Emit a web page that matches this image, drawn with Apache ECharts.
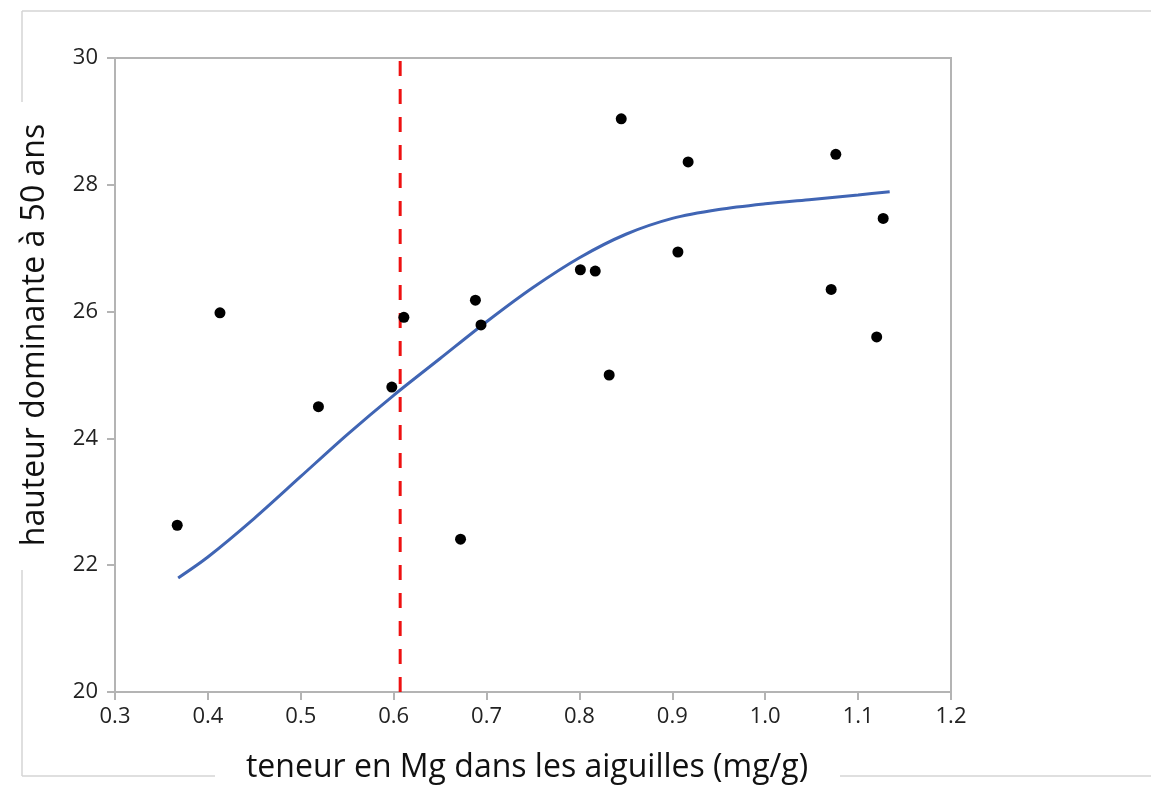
<!DOCTYPE html>
<html>
<head>
<meta charset="utf-8">
<script src="https://cdn.jsdelivr.net/npm/echarts@6/dist/echarts.min.js"></script>
<style>
  html, body { margin: 0; padding: 0; background: #fff; }
  #chart { width: 1151px; height: 790px; }
</style>
</head>
<body>
<div id="chart"></div>
<script>
// teneur en Mg (mg/g) et hauteur dominante mesurées
var mgContent = [0.367, 0.413, 0.519, 0.598, 0.611, 0.672, 0.688, 0.694, 0.801, 0.817,
                 0.832, 0.845, 0.906, 0.917, 1.071, 1.076, 1.120, 1.127];
var domHeight = [22.63, 25.98, 24.50, 24.81, 25.91, 22.41, 26.18, 25.79, 26.66, 26.64,
                 25.00, 29.04, 26.94, 28.36, 26.35, 28.48, 25.60, 27.47];

// courbe ajustée
var fitX = [0.368, 0.40, 0.45, 0.50, 0.55, 0.60, 0.65, 0.70, 0.75, 0.80, 0.85, 0.90, 0.95, 1.00, 1.05, 1.10, 1.134];
var fitY = [21.80, 22.13, 22.74, 23.40, 24.06, 24.68, 25.26, 25.84, 26.38, 26.85, 27.22, 27.47, 27.61, 27.70, 27.77, 27.84, 27.89];

// seuil
var threshold = 0.607;

var xTicks = { min: 0.3, max: 1.2, interval: 0.1 };
var yTicks = { min: 20, max: 30, interval: 2 };

var myChart = echarts.init(document.getElementById('chart'));

var frameColor = '#d4d4d4';
function seg(x1, y1, x2, y2) {
  return {
    type: 'line', z: -10, silent: true,
    shape: { x1: x1, y1: y1, x2: x2, y2: y2 },
    style: { stroke: frameColor, lineWidth: 1.5 }
  };
}

myChart.setOption({
  backgroundColor: '#fff',
  animation: false,
  graphic: [
    seg(22, 11, 1151, 11),
    seg(22, 11, 22, 102),
    seg(22, 570, 22, 776),
    seg(22, 776, 215, 776),
    seg(840, 776, 1151, 776)
  ],
  grid: {
    left: 115, right: 200, top: 58, bottom: 98,
    show: true, borderColor: '#b4b4b4', borderWidth: 2
  },
  xAxis: {
    type: 'value',
    min: xTicks.min, max: xTicks.max, interval: xTicks.interval,
    name: 'teneur en Mg dans les aiguilles (mg/g)',
    nameLocation: 'middle',
    nameGap: 60,
    nameTextStyle: { fontFamily: 'Open Sans', fontSize: 32, color: '#111', padding: [0, 12, 0, 0] },
    axisLine: { show: true, lineStyle: { color: '#b4b4b4', width: 2 } },
    axisTick: { show: true, length: 8, lineStyle: { color: '#b4b4b4', width: 2 } },
    axisLabel: {
      fontFamily: 'Open Sans', fontSize: 22, color: '#222', margin: 14,
      formatter: function (v) { return v.toFixed(1); }
    },
    splitLine: { show: false }
  },
  yAxis: {
    type: 'value',
    min: yTicks.min, max: yTicks.max, interval: yTicks.interval,
    name: 'hauteur dominante à 50 ans',
    nameLocation: 'middle',
    nameRotate: 90,
    nameGap: 64,
    nameTextStyle: { fontFamily: 'Open Sans', fontSize: 32, color: '#111', padding: [0, 0, 0, 80] },
    axisLine: { show: true, lineStyle: { color: '#b4b4b4', width: 2 } },
    axisTick: { show: true, length: 8, lineStyle: { color: '#b4b4b4', width: 2 } },
    axisLabel: { fontFamily: 'Open Sans', fontSize: 22, color: '#222', margin: 17 },
    splitLine: { show: false }
  },
  series: [
    {
      name: 'seuil',
      type: 'line',
      data: [[threshold, yTicks.min], [threshold, yTicks.max]],
      showSymbol: false,
      silent: true,
      lineStyle: { color: '#ee1111', width: 3, type: [15, 13] },
      z: 1
    },
    {
      name: 'ajustement',
      type: 'line',
      data: fitX.map(function (x, i) { return [x, fitY[i]]; }),
      smooth: 0.3,
      showSymbol: false,
      lineStyle: { color: '#4065b4', width: 3 },
      z: 2
    },
    {
      name: 'mesures',
      type: 'scatter',
      data: mgContent.map(function (x, i) { return [x, domHeight[i]]; }),
      symbolSize: 11,
      itemStyle: { color: '#000', opacity: 1 },
      z: 3
    }
  ]
});
</script>
</body>
</html>
